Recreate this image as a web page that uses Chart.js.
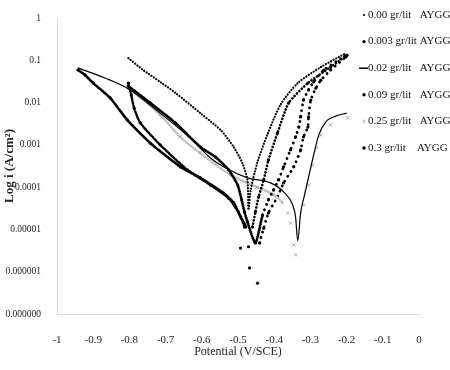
<!DOCTYPE html>
<html>
<head>
<meta charset="utf-8">
<script src="https://cdn.jsdelivr.net/npm/chart.js@4/dist/chart.umd.min.js"></script>
<style>
html, body { margin: 0; padding: 0; background: #fff; }
#wrap { width: 450px; height: 370px; }
</style>
</head>
<body>
<div id="wrap"><canvas id="tafelChart"></canvas></div>
<script>
// Nhãn chú thích
const seriesLabels = [
    '0.00 gr/lit   AYGG',
    '0.003 gr/lit AYGG',
    '0.02 gr/lit   AYGG',
    '0.09 gr/lit   AYGG',
    '0.25 gr/lit   AYGG',
    '0.3 gr/lit    AYGG'
];

// Điện thế (V/SCE) và log i đọc từ hình
const pot000 = [-0.803, -0.762, -0.715, -0.673, -0.604, -0.548, -0.512, -0.488, -0.474, -0.471, -0.465, -0.446, -0.418, -0.382, -0.335, -0.271, -0.202];
const logI000 = [-0.95, -1.23, -1.51, -1.77, -2.25, -2.65, -3.05, -3.43, -3.83, -4.54, -4.07, -3.40, -2.74, -2.04, -1.54, -1.16, -0.83];

const pot003 = [-0.803, -0.795, -0.787, -0.770, -0.715, -0.640, -0.576, -0.526, -0.499, -0.482, -0.471, -0.460, -0.452, -0.443, -0.429, -0.416, -0.391, -0.360, -0.307, -0.244, -0.199];
const logI003 = [-1.54, -1.82, -2.13, -2.48, -3.00, -3.59, -3.95, -4.26, -4.59, -4.94, -5.41, -4.94, -4.59, -4.23, -3.83, -3.36, -2.72, -2.01, -1.54, -1.16, -0.88];

const pot002 = [-0.942, -0.853, -0.798, -0.715, -0.632, -0.576, -0.540, -0.474, -0.410, -0.374, -0.349, -0.341, -0.335, -0.327, -0.316, -0.305, -0.291, -0.277, -0.258, -0.230, -0.200];
const logI002 = [-1.18, -1.47, -1.70, -2.25, -2.84, -3.31, -3.52, -3.78, -3.90, -4.11, -4.42, -4.70, -5.27, -4.61, -4.18, -3.76, -3.24, -2.77, -2.46, -2.32, -2.25];

const pot009 = [-0.803, -0.742, -0.673, -0.604, -0.562, -0.526, -0.501, -0.490, -0.482, -0.474, -0.452, -0.432, -0.416, -0.402, -0.388, -0.374, -0.355, -0.341, -0.332, -0.327, -0.319, -0.305, -0.291, -0.263, -0.205];
const logI009 = [-1.61, -2.01, -2.48, -3.05, -3.29, -3.59, -3.95, -4.30, -4.59, -4.82, -5.32, -4.66, -4.30, -4.07, -3.83, -3.52, -3.12, -2.81, -2.58, -2.34, -1.94, -1.70, -1.51, -1.23, -0.90];

const pot025 = [-0.803, -0.715, -0.660, -0.605, -0.521, -0.447, -0.402, -0.377, -0.363, -0.355, -0.346, -0.341, -0.319, -0.305, -0.294, -0.283, -0.271, -0.245, -0.197];
const logI025 = [-1.65, -2.29, -2.81, -3.19, -3.71, -4.00, -4.18, -4.37, -4.61, -4.85, -5.37, -5.60, -4.42, -3.95, -3.48, -3.07, -2.77, -2.53, -2.36];

const pot03 = [-0.942, -0.922, -0.900, -0.853, -0.806, -0.742, -0.659, -0.604, -0.540, -0.512, -0.493, -0.479, -0.493, -0.468, -0.446, -0.440, -0.429, -0.416, -0.391, -0.374, -0.346, -0.327, -0.319, -0.307, -0.305, -0.299, -0.285, -0.271, -0.244, -0.202];
const logI03 = [-1.23, -1.35, -1.54, -1.89, -2.41, -2.96, -3.52, -3.78, -4.14, -4.37, -4.70, -4.94, -5.44, -5.91, -6.27, -5.32, -4.97, -4.61, -4.23, -3.90, -3.52, -3.12, -2.81, -2.58, -2.34, -1.94, -1.66, -1.47, -1.23, -0.92];

// Nhãn trục
const xTitle = 'Potential (V/SCE)';
const yTitle = 'Log i (A/cm²)';

Chart.defaults.font.family = '"Liberation Serif", "Times New Roman", serif';
Chart.defaults.color = '#222';

function toPoints(pot, logI) {
    return pot.map((p, i) => ({ x: p, y: Math.pow(10, logI[i]) }));
}

// Đường chấm: dày ở nhánh catot, thưa ở nhánh anot, bỏ các điểm nhiễu rất thấp
function dottedSegment(sparseFrom, denseGap, sparseGap) {
    return {
        borderColor: ctx => (Math.log10(ctx.p0.parsed.y) < -5.4 || Math.log10(ctx.p1.parsed.y) < -5.4) ? 'rgba(0,0,0,0)' : '#000',
        borderDash: ctx => ctx.p0.parsed.x < sparseFrom ? [0.1, denseGap] : [0.1, sparseGap]
    };
}

const datasets = [
    {
        label: seriesLabels[0],
        data: toPoints(pot000, logI000),
        showLine: true, tension: 0.25,
        borderColor: '#000', borderWidth: 2.2, borderCapStyle: 'round',
        segment: dottedSegment(0, 2.8, 3.0),
        pointRadius: 0,
        legendMark: 'smalldot'
    },
    {
        label: seriesLabels[1],
        data: toPoints(pot003, logI003),
        showLine: true, tension: 0.2,
        borderColor: '#000', borderWidth: 2.6, borderCapStyle: 'round',
        segment: dottedSegment(-0.47, 2.0, 3.2),
        pointRadius: 1.6, pointBackgroundColor: '#000', pointBorderWidth: 0,
        legendMark: 'dot'
    },
    {
        label: seriesLabels[2],
        data: toPoints(pot002, logI002),
        showLine: true, cubicInterpolationMode: 'monotone',
        borderColor: '#000', borderWidth: 1.2,
        pointRadius: 0,
        legendMark: 'line'
    },
    {
        label: seriesLabels[3],
        data: toPoints(pot009, logI009),
        showLine: true, tension: 0.2,
        borderColor: '#000', borderWidth: 2.8, borderCapStyle: 'round',
        segment: dottedSegment(-0.45, 2.0, 5.5),
        pointRadius: 1.6, pointBackgroundColor: '#000', pointBorderWidth: 0,
        legendMark: 'dot'
    },
    {
        label: seriesLabels[4],
        data: toPoints(pot025, logI025),
        showLine: true, cubicInterpolationMode: 'monotone',
        borderColor: '#c4c4c4', borderWidth: 2.4,
        segment: {
            borderColor: ctx => ctx.p0.parsed.x < -0.40 ? '#c4c4c4' : 'rgba(0,0,0,0)'
        },
        pointStyle: 'crossRot', pointRadius: 2.2,
        pointBorderColor: '#a8a8a8', pointBorderWidth: 1,
        legendMark: 'cross'
    },
    {
        label: seriesLabels[5],
        data: toPoints(pot03, logI03),
        showLine: true, tension: 0.2,
        borderColor: '#000', borderWidth: 2.8, borderCapStyle: 'round',
        segment: dottedSegment(-0.45, 1.8, 5.5),
        pointRadius: 1.6, pointBackgroundColor: '#000', pointBorderWidth: 0,
        legendMark: 'dot'
    }
];

// Chú thích vẽ tay ở góc trên bên phải (đè lên vùng vẽ như hình gốc)
const sideLegend = {
    id: 'sideLegend',
    afterDraw(chart) {
        const ctx = chart.ctx;
        ctx.save();
        ctx.font = '11px "Liberation Serif", serif';
        ctx.textBaseline = 'middle';
        chart.data.datasets.forEach((ds, i) => {
            const y = 15 + i * 26.6;
            const mx = 364;
            ctx.fillStyle = '#000';
            ctx.strokeStyle = '#000';
            if (ds.legendMark === 'smalldot') {
                ctx.beginPath(); ctx.arc(mx, y, 1.1, 0, Math.PI * 2); ctx.fill();
            } else if (ds.legendMark === 'dot') {
                ctx.beginPath(); ctx.arc(mx, y, 1.7, 0, Math.PI * 2); ctx.fill();
            } else if (ds.legendMark === 'line') {
                ctx.lineWidth = 1.5;
                ctx.beginPath(); ctx.moveTo(359, y); ctx.lineTo(368, y); ctx.stroke();
            } else if (ds.legendMark === 'cross') {
                ctx.strokeStyle = '#b0b0b0'; ctx.lineWidth = 1;
                ctx.beginPath();
                ctx.moveTo(mx - 1.8, y - 1.8); ctx.lineTo(mx + 1.8, y + 1.8);
                ctx.moveTo(mx + 1.8, y - 1.8); ctx.lineTo(mx - 1.8, y + 1.8);
                ctx.stroke();
            }
            ctx.fillStyle = '#111';
            ctx.fillText(ds.label, 368, y);
        });
        ctx.restore();
    }
};

new Chart(document.getElementById('tafelChart'), {
    type: 'scatter',
    data: { datasets: datasets },
    options: {
        responsive: true,
        maintainAspectRatio: false,
        animation: false,
        layout: { padding: { top: 18, right: 31, left: 0, bottom: 0 } },
        plugins: {
            legend: { display: false },
            tooltip: { enabled: false }
        },
        scales: {
            x: {
                type: 'linear',
                min: -1,
                max: 0,
                grid: { display: false },
                border: { display: true, color: '#d9d9d9', width: 1 },
                ticks: {
                    stepSize: 0.1,
                    padding: 12,
                    font: { size: 11 },
                    color: '#222',
                    callback: v => {
                        const r = Math.round(v * 10) / 10;
                        return r === 0 ? '0' : String(r);
                    }
                },
                title: {
                    display: true,
                    text: xTitle,
                    font: { size: 12 },
                    color: '#222',
                    padding: { top: 0, bottom: 11 }
                },
                afterFit: scale => { scale.height = 56; }
            },
            y: {
                type: 'logarithmic',
                min: 1e-7,
                max: 1,
                grid: { display: false },
                border: { display: true, color: '#d9d9d9', width: 1 },
                ticks: {
                    autoSkip: false,
                    padding: 8,
                    font: { size: 9.5 },
                    color: '#222',
                    callback: v => {
                        const e = Math.log10(v);
                        if (Math.abs(e - Math.round(e)) > 1e-6) return null;
                        const d = Math.min(6, Math.max(0, -Math.round(e)));
                        return v.toFixed(d);
                    }
                },
                title: {
                    display: true,
                    text: yTitle,
                    font: { size: 13, weight: 'bold' },
                    color: '#222',
                    padding: { top: 2, bottom: 0 }
                },
                afterFit: scale => { scale.width = 57; }
            }
        }
    },
    plugins: [sideLegend]
});
</script>
</body>
</html>
